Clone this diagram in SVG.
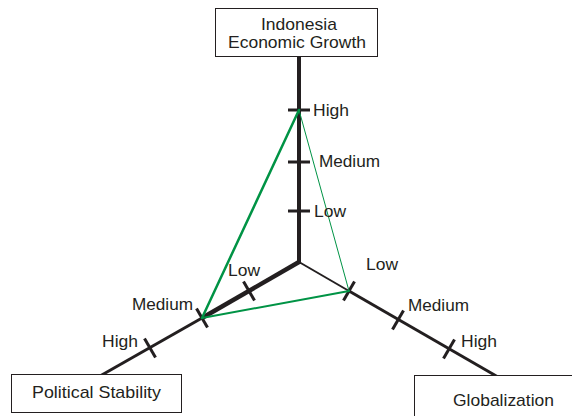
<svg xmlns="http://www.w3.org/2000/svg" width="572" height="416" viewBox="0 0 572 416">
  <style>
    .box { fill: #ffffff; stroke: #231f20; stroke-width: 1; }
    .lbl { font-family: "Liberation Sans", Arial, sans-serif; font-size: 17px; fill: #231f20; }
    .axis { stroke: #231f20; fill: none; stroke-linecap: butt; }
    .tick { stroke: #231f20; stroke-width: 3; }
    .tri { stroke: #009345; fill: none; stroke-linecap: round; }
  </style>
  <rect width="572" height="416" fill="#ffffff"/>

  <g id="connectors">
    <!-- axes from the centre point -->
    <line class="axis" x1="299" y1="57" x2="299" y2="264" stroke-width="4"/>
    <line class="axis" x1="299" y1="262" x2="202" y2="318" stroke-width="4.5"/>
    <line class="axis" x1="202" y1="318" x2="100" y2="376" stroke-width="3"/>
    <line class="axis" x1="299" y1="262" x2="349" y2="291" stroke-width="2"/>
    <line class="axis" x1="349" y1="291" x2="498" y2="377" stroke-width="3"/>

    <!-- scale ticks -->
    <line class="tick" x1="288" y1="110" x2="310" y2="110"/>
    <line class="tick" x1="288" y1="162" x2="310" y2="162"/>
    <line class="tick" x1="288" y1="211" x2="310" y2="211"/>
    <line class="tick" x1="243.5" y1="281.5" x2="254.5" y2="300.5"/>
    <line class="tick" x1="196.5" y1="308.5" x2="207.5" y2="327.5"/>
    <line class="tick" x1="144.5" y1="338.5" x2="155.5" y2="357.5"/>
    <line class="tick" x1="354.5" y1="281.5" x2="343.5" y2="300.5"/>
    <line class="tick" x1="403.5" y1="310.5" x2="392.5" y2="329.5"/>
    <line class="tick" x1="454.5" y1="339.5" x2="443.5" y2="358.5" stroke-width="4"/>

    <!-- rating triangle -->
    <line class="tri" x1="299" y1="110" x2="202" y2="318" stroke-width="2.5"/>
    <line class="tri" x1="202" y1="318" x2="349" y2="291" stroke-width="2"/>
    <line class="tri" x1="299" y1="110" x2="349" y2="291" stroke-width="1"/>
  </g>

  <g id="node-growth">
    <rect class="box" x="215.5" y="8.5" width="162" height="48"/>
    <text class="lbl" x="261" y="30" textLength="76" lengthAdjust="spacingAndGlyphs">Indonesia</text>
    <text class="lbl" x="228" y="48" textLength="138" lengthAdjust="spacingAndGlyphs">Economic Growth</text>
  </g>

  <g id="node-stability">
    <rect class="box" x="11.5" y="374.5" width="170" height="38"/>
    <text class="lbl" x="32" y="398" textLength="129" lengthAdjust="spacingAndGlyphs">Political Stability</text>
  </g>

  <g id="node-globalization">
    <rect class="box" x="414.5" y="375.5" width="170" height="45"/>
    <text class="lbl" x="453" y="406" textLength="101" lengthAdjust="spacingAndGlyphs">Globalization</text>
  </g>

  <g id="scale-labels">
    <text class="lbl" x="313" y="116" textLength="36" lengthAdjust="spacingAndGlyphs">High</text>
    <text class="lbl" x="319" y="167" textLength="61" lengthAdjust="spacingAndGlyphs">Medium</text>
    <text class="lbl" x="314" y="217" textLength="32" lengthAdjust="spacingAndGlyphs">Low</text>
    <text class="lbl" x="228" y="276" textLength="32" lengthAdjust="spacingAndGlyphs">Low</text>
    <text class="lbl" x="132" y="310" textLength="61" lengthAdjust="spacingAndGlyphs">Medium</text>
    <text class="lbl" x="102" y="347" textLength="36" lengthAdjust="spacingAndGlyphs">High</text>
    <text class="lbl" x="366" y="270" textLength="32" lengthAdjust="spacingAndGlyphs">Low</text>
    <text class="lbl" x="408" y="311" textLength="61" lengthAdjust="spacingAndGlyphs">Medium</text>
    <text class="lbl" x="461" y="347" textLength="36" lengthAdjust="spacingAndGlyphs">High</text>
  </g>
</svg>
